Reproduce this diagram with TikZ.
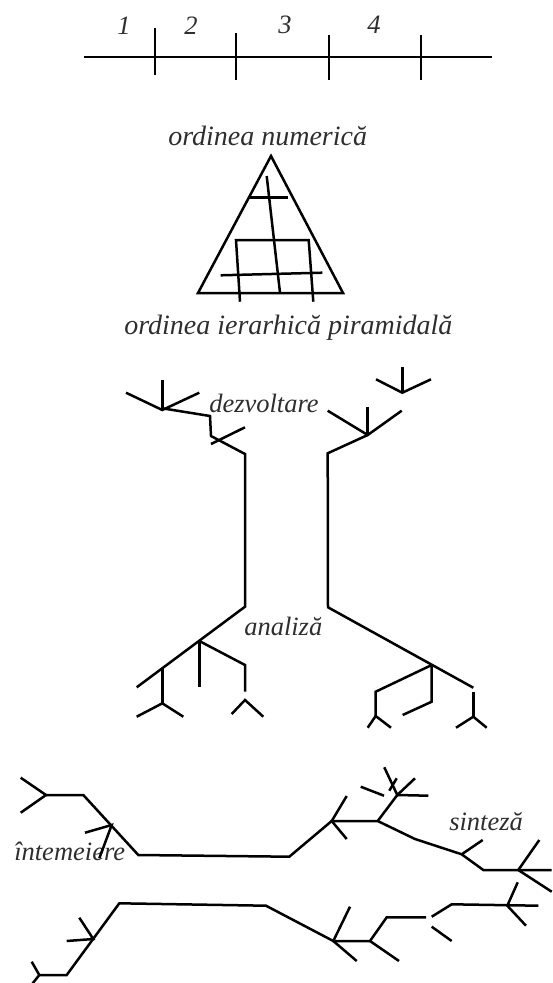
\documentclass[tikz,border=0pt]{standalone}
\usepackage{fontspec}
\setmainfont{Liberation Serif}
\begin{document}
\begin{tikzpicture}[x=1pt,y=-1pt,line width=2.5pt,
  lbl/.style={font=\fontsize{26.5}{31}\selectfont\itshape,inner sep=0pt,anchor=base west,text=black!82},
  big lbl/.style={lbl,font=\fontsize{28}{33}\selectfont\itshape}]
\useasboundingbox (0,0) rectangle (552,983);

% --- numeric order: a divided segment ---
\draw (84,57) -- (492,57);
\draw (155,28) -- (155,75);
\draw (236,33) -- (236,80);
\draw (329,35) -- (329,80);
\draw (421,35) -- (421,80);
\node[lbl] (n1) at (116,34) {1};
\node[lbl] (n2) at (183,34) {2};
\node[lbl] (n3) at (277,33) {3};
\node[lbl] (n4) at (366,33) {4};

% --- hierarchical pyramid ---
\node[big lbl] (tnum) at (167,145) {ordinea numerică};
\draw (271,156) -- (198,293) -- (343,293) -- cycle;
\draw (266.7,176) -- (280,292.7);
\draw (249,197.7) -- (288.3,197.7);
\draw (240,301.7) -- (236,240) -- (308.7,240) -- (313.3,301.7);
\draw (220.7,275.3) -- (322.3,272.7);
\node[big lbl] (tpir) at (123,334) {ordinea ierarhică piramidală};

% --- development / analysis trees ---
\node[lbl] (tdez) at (208,412) {dezvoltare};
\node[lbl] (tana) at (243,635) {analiză};
% left upper crown
\draw (162.3,380) -- (162.3,410);
\draw (126,392.7) -- (162.3,410) -- (199.3,392.7);
\draw (162.3,408.3) -- (210,416) -- (211,436) -- (245,454) -- (245,606.7) -- (136.7,687.3);
\draw (211,444) -- (245,427.3);
% left lower roots
\draw (199.3,641) -- (199.3,687.3);
\draw (199.3,641) -- (245,665) -- (245,691.7);
\draw (162.3,668) -- (162.3,703.3);
\draw (136.7,716.7) -- (162.3,703.3) -- (183.3,716.7);
\draw (231.7,714) -- (245,700) -- (263.3,716.7);
% right upper crown
\draw (402.3,366.7) -- (402.3,392.7);
\draw (376,379.3) -- (402.3,392.7) -- (431,379.3);
\draw (367.7,406.7) -- (367.7,435);
\draw (327.7,410.7) -- (367.7,435) -- (401.7,410.7);
\draw (367.7,435) -- (327.7,453.3) -- (328,607.3) -- (473.3,687.7);
% right lower roots
\draw (431.7,665) -- (431.7,701.7) -- (402.7,715);
\draw (431.7,665) -- (375.7,691.7) -- (375.7,716);
\draw (367.7,727.7) -- (375.7,716) -- (391,727.7);
\draw (473.3,692.3) -- (473.3,716.7);
\draw (456,727.7) -- (473.3,716.7) -- (486.7,727.7);

% --- foundation / synthesis branches ---
\node[lbl] (tint) at (13,860) {întemeiere};
\node[lbl] (tsin) at (448,830) {sinteză};
% upper branch
\draw (20.7,777.7) -- (46,795) -- (20.7,812.7);
\draw (46,795) -- (83.3,795) -- (138.3,855) -- (289.3,856.7) -- (331.7,821) -- (377.7,821)
      -- (415,839) -- (461.7,854.3) -- (483.3,870) -- (551.7,870);
\draw (85,832.7) -- (111.7,825) -- (99.3,858.3);
\draw (346.7,796) -- (331.7,821) -- (346.7,839);
\draw (377.7,821) -- (397.3,795);
\draw (384.3,767.3) -- (397.3,795) -- (415,778.3);
\draw (397.3,795) -- (428.3,795.7);
\draw (396.7,778.3) -- (389.3,790.7);
\draw (360.7,786.7) -- (384,795.7);
\draw (461.7,854.3) -- (482.7,840);
\draw (539.3,840) -- (518.3,870) -- (551.7,891.7);
% lower branch
\draw (31.7,961.7) -- (39.3,975) -- (32.7,983.3);
\draw (39.3,975) -- (66.7,975) -- (119.3,903.3) -- (266,905.7) -- (333.3,941) -- (370,941)
      -- (386.7,917.3) -- (426,917.3);
\draw (66.7,941) -- (93.3,939) -- (79.3,917.7);
\draw (350,906.7) -- (333.3,941) -- (356.7,961);
\draw (370,941) -- (399,961);
\draw (431.7,916.7) -- (451.7,904.3) -- (538.3,905.7);
\draw (431.7,926.7) -- (451.7,941);
\draw (517.7,882.3) -- (507.3,905.7) -- (526,925.7);
\end{tikzpicture}
\end{document}
